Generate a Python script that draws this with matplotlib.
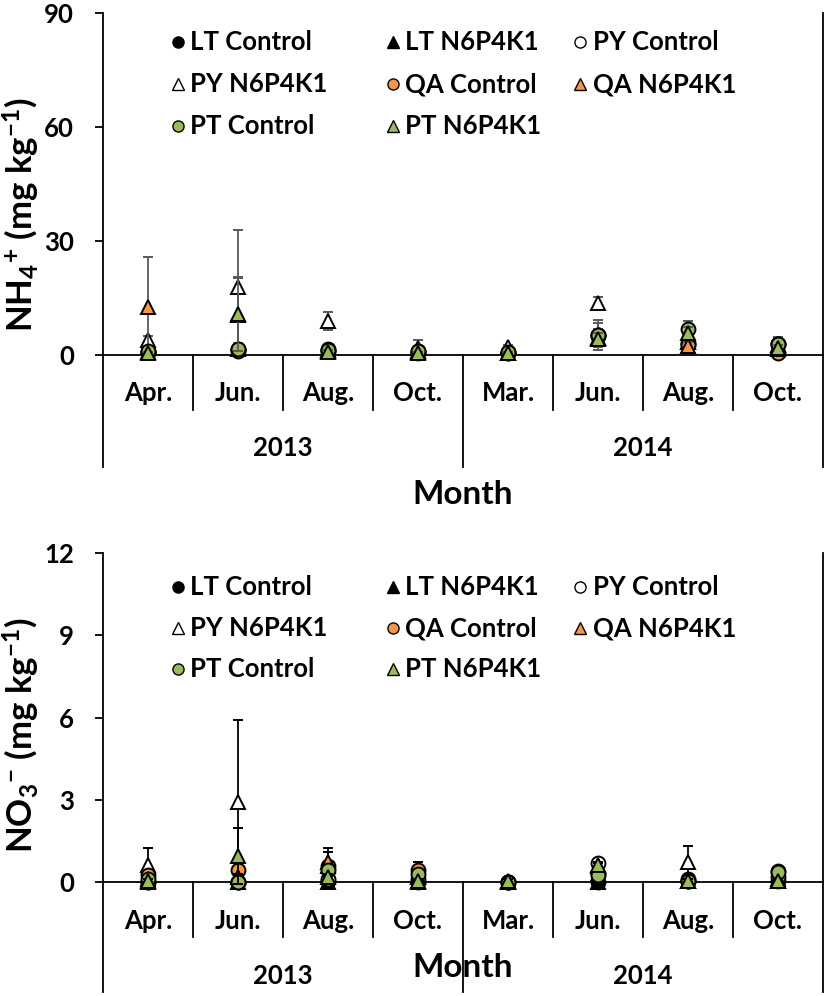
import matplotlib
matplotlib.use("Agg")
import matplotlib.pyplot as plt
from matplotlib.lines import Line2D
import numpy as np

plt.rcParams['font.family'] = ['Lato', 'DejaVu Sans']
plt.rcParams['font.weight'] = 'bold'
plt.rcParams['mathtext.fontset'] = 'custom'
plt.rcParams['mathtext.rm'] = 'Lato:bold'
plt.rcParams['mathtext.bf'] = 'Lato:bold'
plt.rcParams['mathtext.it'] = 'Lato:bold'

# ---------------- data ----------------
months = ["Apr.", "Jun.", "Aug.", "Oct.", "Mar.", "Jun.", "Aug.", "Oct."]
years = ["2013", "2014"]
year_spans = [(0, 4), (4, 8)]

series = ["LT Control", "LT N6P4K1", "PY Control", "PY N6P4K1",
          "QA Control", "QA N6P4K1", "PT Control", "PT N6P4K1"]
markers = ["o", "^", "o", "^", "o", "^", "o", "^"]
faces = ["black", "black", "white", "white", "#F79646", "#F79646", "#9BBB59", "#9BBB59"]

# NH4+ (mg kg-1) means and errors per series
nh4_lt_c = [0.8, 1.2, 1.5, 1.0, 0.6, 5.2, 3.0, 3.0]
nh4_lt_n = [0.8, 10.5, 1.2, 1.0, 0.6, 4.5, 3.5, 2.5]
nh4_py_c = [0.8, 1.5, 1.0, 0.8, 0.8, 5.0, 3.2, 2.8]
nh4_py_n = [3.9, 18.0, 9.0, 1.8, 2.2, 13.6, 3.5, 2.2]
nh4_qa_c = [0.8, 1.0, 1.0, 0.6, 0.6, 5.3, 2.5, 0.5]
nh4_qa_n = [12.7, 1.5, 1.0, 0.8, 0.6, 4.5, 2.4, 1.5]
nh4_pt_c = [1.0, 1.5, 1.3, 1.0, 0.8, 5.3, 6.8, 2.9]
nh4_pt_n = [0.4, 10.8, 0.9, 0.6, 0.5, 4.3, 5.8, 1.8]

nh4_lt_c_err = [0.3, 0.5, 0.5, 0.5, 0.3, 4.0, 1.0, 1.7]
nh4_lt_n_err = [0.3, 9.8, 0.5, 0.5, 0.3, 1.5, 1.0, 1.0]
nh4_py_c_err = [0.3, 0.5, 0.5, 0.5, 0.3, 1.5, 1.0, 1.0]
nh4_py_n_err = [1.2, 14.9, 2.4, 2.1, 0.5, 1.6, 1.0, 0.8]
nh4_qa_c_err = [0.3, 0.5, 0.5, 0.3, 0.3, 3.2, 1.0, 0.5]
nh4_qa_n_err = [13.2, 0.5, 0.5, 0.3, 0.3, 1.5, 1.0, 0.5]
nh4_pt_c_err = [0.3, 0.5, 0.5, 0.3, 0.3, 1.5, 2.1, 1.0]
nh4_pt_n_err = [0.3, 9.7, 0.5, 0.3, 0.3, 1.5, 1.5, 0.8]

# NO3- (mg kg-1) means and errors per series
no3_lt_c = [0.0, 0.0, 0.05, 0.0, 0.0, 0.0, 0.1, 0.05]
no3_lt_n = [0.0, 0.0, 0.0, 0.0, 0.0, 0.0, 0.05, 0.05]
no3_py_c = [0.0, 0.0, 0.1, 0.1, 0.0, 0.7, 0.05, 0.4]
no3_py_n = [0.62, 2.93, 0.6, 0.2, 0.0, 0.6, 0.74, 0.05]
no3_qa_c = [0.25, 0.42, 0.6, 0.44, 0.0, 0.3, 0.05, 0.2]
no3_qa_n = [0.1, 0.2, 0.74, 0.2, 0.0, 0.3, 0.05, 0.1]
no3_pt_c = [0.1, 0.0, 0.45, 0.3, 0.0, 0.25, 0.05, 0.38]
no3_pt_n = [0.05, 0.95, 0.2, 0.05, 0.05, 0.62, 0.05, 0.05]

no3_lt_c_err = [0.0, 0.0, 0.05, 0.0, 0.0, 0.0, 0.05, 0.05]
no3_lt_n_err = [0.0, 0.0, 0.0, 0.0, 0.0, 0.0, 0.05, 0.05]
no3_py_c_err = [0.0, 0.0, 0.05, 0.05, 0.0, 0.1, 0.05, 0.05]
no3_py_n_err = [0.62, 2.97, 0.5, 0.1, 0.0, 0.1, 0.58, 0.05]
no3_qa_c_err = [0.1, 0.1, 0.1, 0.3, 0.0, 0.1, 0.05, 0.05]
no3_qa_n_err = [0.05, 0.1, 0.51, 0.1, 0.0, 0.1, 0.05, 0.05]
no3_pt_c_err = [0.05, 0.0, 0.1, 0.1, 0.0, 0.1, 0.05, 0.1]
no3_pt_n_err = [0.05, 1.02, 0.1, 0.05, 0.05, 0.1, 0.05, 0.05]

nh4_vals = [nh4_lt_c, nh4_lt_n, nh4_py_c, nh4_py_n, nh4_qa_c, nh4_qa_n, nh4_pt_c, nh4_pt_n]
nh4_errs = [nh4_lt_c_err, nh4_lt_n_err, nh4_py_c_err, nh4_py_n_err,
            nh4_qa_c_err, nh4_qa_n_err, nh4_pt_c_err, nh4_pt_n_err]
no3_vals = [no3_lt_c, no3_lt_n, no3_py_c, no3_py_n, no3_qa_c, no3_qa_n, no3_pt_c, no3_pt_n]
no3_errs = [no3_lt_c_err, no3_lt_n_err, no3_py_c_err, no3_py_n_err,
            no3_qa_c_err, no3_qa_n_err, no3_pt_c_err, no3_pt_n_err]

nh4_ticks = [0, 30, 60, 90]
no3_ticks = [0, 3, 6, 9, 12]

# ---------------- figure ----------------
W, H = 827, 996
fig = plt.figure(figsize=(W / 100, H / 100), dpi=100)

FS = 18.5


def px_box(left, top, right, bottom):
    return [left / W, 1 - bottom / H, (right - left) / W, (bottom - top) / H]


def draw_panel(ax, vals, errs, ticks, ecolor, ylabel, lab_y,
               month_y, sep_len, year_y, year_len, month_lab_y, leg_rows):
    x = np.arange(len(months))
    for i in range(len(series)):
        ax.errorbar(x, vals[i], yerr=errs[i], fmt=markers[i], ms=10,
                    mfc=faces[i], mec="black", mew=1.4, ecolor=ecolor,
                    elinewidth=1.3, capsize=3.8, capthick=1.3,
                    clip_on=False, zorder=3 + i)
    ax.set_xlim(-0.5, len(months) - 0.5)
    ax.set_ylim(ticks[0], ticks[-1])
    ax.set_yticks(ticks)
    ax.set_yticklabels([str(t) for t in ticks], fontsize=FS, fontweight='bold')
    ax.tick_params(axis='y', direction='out', length=6, width=1.3, pad=15)
    ax.set_xticks([])
    ax.spines['top'].set_visible(False)
    ax.spines['bottom'].set_visible(False)
    for s in ['left', 'right']:
        ax.spines[s].set_linewidth(1.3)
    ax.axhline(0, color='black', lw=1.3, zorder=2, clip_on=False)

    tr = ax.get_xaxis_transform()
    # month separators
    for b in np.arange(0.5, len(months) - 1, 1.0):
        if b == 3.5:
            continue
        ax.add_line(Line2D([b, b], [0, -sep_len], transform=tr, color='black',
                           lw=1.3, clip_on=False))
    # year separators
    for b in [-0.5, 3.5, len(months) - 0.5]:
        ax.add_line(Line2D([b, b], [0, -year_len], transform=tr, color='black',
                           lw=1.3, clip_on=False))
    for i, m in enumerate(months):
        ax.text(i, -month_y, m, transform=tr, ha='center', va='center',
                fontsize=FS, fontweight='bold')
    for yname, (a, b) in zip(years, year_spans):
        ax.text((a + b - 1) / 2, -year_y, yname, transform=tr, ha='center',
                va='center', fontsize=FS, fontweight='bold')
    ax.text((len(months) - 1) / 2, -month_lab_y, "Month", transform=tr,
            ha='center', va='center', fontsize=24, fontweight='bold')

    ax.set_ylabel(ylabel, fontsize=25, fontweight='bold')
    ax.yaxis.set_label_coords(-0.085, lab_y)

    # legend (manual, 3 columns)
    mk_x = [0.104, 0.403, 0.6625]
    tx_x = [0.121, 0.420, 0.680]
    for i, name in enumerate(series):
        r, c = divmod(i, 3)
        ax.plot([mk_x[c]], [leg_rows[r]], marker=markers[i], ms=8,
                mfc=faces[i], mec='black', mew=1.0, transform=ax.transAxes,
                clip_on=False, ls='none')
        ax.text(tx_x[c], leg_rows[r], name, transform=ax.transAxes,
                ha='left', va='center', fontsize=FS, fontweight='bold')


ax1 = fig.add_axes(px_box(103, 13, 823, 355))
draw_panel(ax1, nh4_vals, nh4_errs, nh4_ticks, '#595959',
           r'NH$_\mathbf{4}$$^\mathbf{+}$ (mg kg$^\mathbf{-1}$)', 0.41,
           38 / 342, 55 / 342, 93 / 342, 112 / 342, 140 / 342,
           [0.915, 0.792, 0.670])

ax2 = fig.add_axes(px_box(103, 553, 823, 882))
draw_panel(ax2, no3_vals, no3_errs, no3_ticks, 'black',
           r'NO$_\mathbf{3}$$^\mathbf{-}$ (mg kg$^\mathbf{-1}$)', 0.447,
           39 / 329, 55 / 329, 94 / 329, 110 / 329, 85 / 329,
           [0.897, 0.772, 0.647])

fig.savefig("out.png", dpi=100)
